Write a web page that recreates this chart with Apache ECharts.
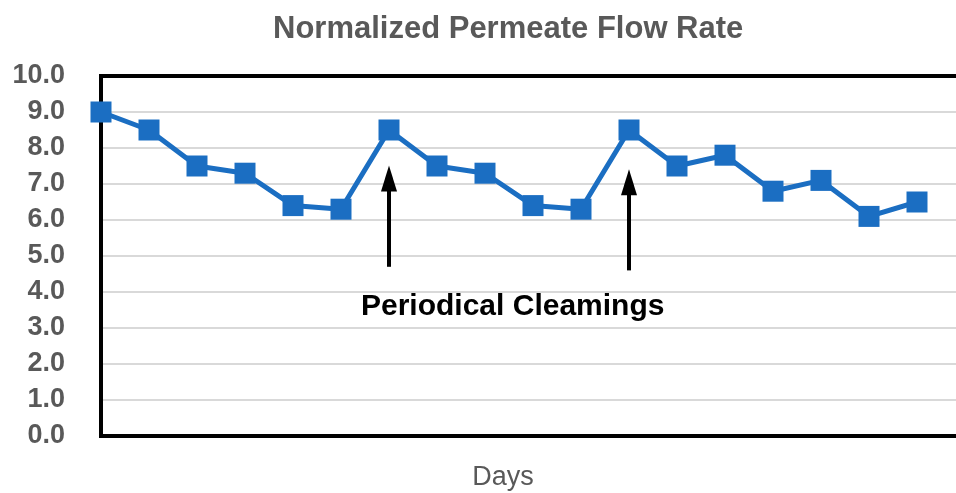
<!DOCTYPE html>
<html>
<head>
<meta charset="utf-8">
<script src="https://cdn.jsdelivr.net/npm/echarts@6/dist/echarts.min.js"></script>
<style>
  html, body { margin: 0; padding: 0; background: #fff; }
  #flowChart { width: 956px; height: 493px; }
</style>
</head>
<body>
<div id="flowChart"></div>
<script>
// days on x axis (last one is empty, the plot runs past the picture edge)
const days = ['1', '2', '3', '4', '5', '6', '7', '8', '9', '10', '11', '12', '13', '14', '15', '16', '17', '18', '19'];
const flowRate = [9.0, 8.5, 7.5, 7.3, 6.4, 6.3, 8.5, 7.5, 7.3, 6.4, 6.3, 8.5, 7.5, 7.8, 6.8, 7.1, 6.1, 6.5];
const yTicks = [0, 1, 2, 3, 4, 5, 6, 7, 8, 9, 10];
// cleaning arrows: day index, arrow foot, arrow head
const cleaningDays = [6, 11];
const arrowFrom = [4.7, 4.6];
const arrowTo = [7.15, 7.05];

const fontFam = 'Liberation Sans, Arial, sans-serif';
const flowChart = echarts.init(document.getElementById('flowChart'));
flowChart.setOption(flowChartOption());

function flowChartOption() {
  return {
    animation: false,
    title: {
      text: 'Normalized Permeate Flow Rate',
      left: 268,
      top: 9,
      textStyle: {
        color: '#595959',
        fontSize: 31,
        fontWeight: 'bold',
        fontFamily: fontFam
      }
    },
    grid: {
      left: 101,
      right: -9,
      top: 76,
      bottom: 57,
      outerBoundsMode: 'none',
      containLabel: false,
      show: true,
      z: 1,
      borderColor: '#000',
      borderWidth: 4,
      backgroundColor: 'transparent'
    },
    xAxis: {
      type: 'category',
      boundaryGap: false,
      data: days,
      axisLine: { show: false },
      axisTick: { show: false },
      axisLabel: { show: false },
      splitLine: { show: false },
      name: 'Days',
      nameLocation: 'middle',
      nameGap: 28,
      nameTextStyle: {
        color: '#595959',
        fontSize: 27,
        fontFamily: fontFam,
        padding: [0, 60, 0, 0]
      }
    },
    yAxis: {
      type: 'value',
      min: yTicks[0],
      max: yTicks[yTicks.length - 1],
      interval: 1,
      axisLine: { show: false },
      axisTick: { show: false },
      axisLabel: {
        margin: 36,
        padding: [6, 0, 0, 0],
        color: '#595959',
        fontSize: 27,
        fontWeight: 'bold',
        fontFamily: fontFam,
        formatter: function (v) { return v.toFixed(1); }
      },
      splitLine: {
        show: true,
        lineStyle: { color: '#d9d9d9', width: 2 }
      }
    },
    graphic: [
      {
        type: 'text',
        left: 361,
        top: 292,
        style: {
          text: 'Periodical Cleamings',
          fill: '#000',
          font: 'bold 30px ' + fontFam
        }
      }
    ],
    series: [
      {
        type: 'line',
        data: flowRate,
        symbol: 'rect',
        symbolSize: 21,
        lineStyle: { color: '#1b6ec2', width: 5 },
        itemStyle: { color: '#1b6ec2' },
        markLine: {
          silent: true,
          symbol: ['none', 'triangle'],
          symbolSize: [16, 26],
          lineStyle: { color: '#000', width: 4, type: 'solid' },
          label: { show: false },
          data: cleaningDays.map(function (d, i) {
            return [{ coord: [d, arrowFrom[i]] }, { coord: [d, arrowTo[i]] }];
          })
        }
      }
    ]
  };
}
</script>
</body>
</html>
